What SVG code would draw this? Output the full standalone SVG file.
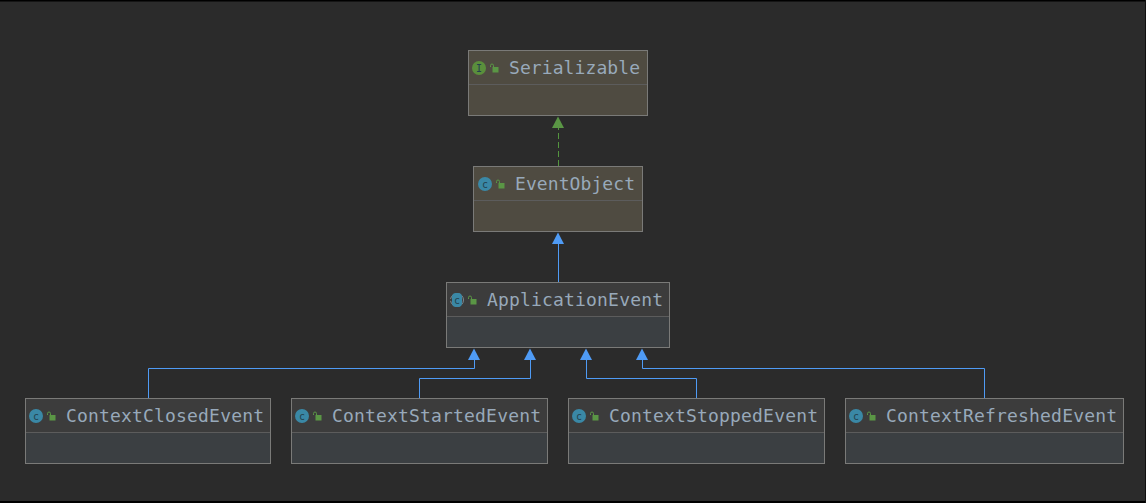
<svg xmlns="http://www.w3.org/2000/svg" width="1146" height="503" viewBox="0 0 1146 503">
<style>
.box{fill:none;stroke:#7a7a78;stroke-width:1}
.div{stroke:#5c5c5c;stroke-width:1}
.y .hb{fill:#4f4b41}
.y .bb{fill:#4f4b41}
.g .hb{fill:#3c3c3c}
.g .bb{fill:#3b3f42}
text{font-family:"DejaVu Sans Mono","Liberation Mono",monospace;font-size:18px;fill:#98a9ba}
.c{fill:#3a88a6}
.i{fill:#5a8f3c}
.ic{font-family:"DejaVu Sans Mono",monospace;font-size:10px;fill:#23424f;text-anchor:middle}
.conn{fill:none;stroke:#4f9bf5;stroke-width:1}
.dash{fill:none;stroke:#54953f;stroke-width:1;stroke-dasharray:6 3}
.ah{fill:#4f9bf5}
.ahg{fill:#5a9645}
.lk{fill:#5a9645}
.ls{fill:none;stroke:#5a9645;stroke-width:1}
</style>
<defs>
<g id="lock"><rect class="lk" x="2.500" y="3" width="6" height="5.500"/><path class="ls" d="M0.500 3V1.500a1.500 1.500 0 0 1 3 0V3.500"/></g>
</defs>
<rect width="1146" height="503" fill="#2b2b2b"/>
<rect width="1146" height="1.500" fill="#000"/>
<rect y="501" width="1146" height="2" fill="#000"/>
<rect x="1145" width="1" height="503" fill="#111"/>
<g id="connectors">
<path class="dash" d="M558.500 166V128"/>
<polygon class="ahg" points="558,116.500 552,128 564,128"/>
<path class="conn" d="M558.500 282V244"/>
<polygon class="ah" points="558,232.500 552,244 564,244"/>
<path class="conn" d="M148.500 398V368.500H474.500V360"/>
<polygon class="ah" points="474,348.500 468,360 480,360"/>
<path class="conn" d="M419.500 398V378.500H530.500V360"/>
<polygon class="ah" points="530,348.500 524,360 536,360"/>
<path class="conn" d="M696.500 398V378.500H586.500V360"/>
<polygon class="ah" points="586,348.500 580,360 592,360"/>
<path class="conn" d="M984.500 398V368.500H642.500V360"/>
<polygon class="ah" points="642,348.500 636,360 648,360"/>
</g>
<g id="Serializable" class="y">
<rect class="hb" x="468.500" y="50.500" width="179" height="34"/><rect class="bb" x="468.500" y="84.500" width="179" height="31"/>
<path class="div" d="M469 84.500H647"/><rect class="box" x="468.500" y="50.500" width="179" height="65"/>
<circle class="i" cx="479" cy="68" r="7"/><text class="ic" x="479" y="71.500">I</text>
<use href="#lock" x="490" y="64"/>
<text x="509" y="74" textLength="131" lengthAdjust="spacing">Serializable</text>
</g>
<g id="EventObject" class="y">
<rect class="hb" x="473.500" y="166.500" width="169" height="34"/><rect class="bb" x="473.500" y="200.500" width="169" height="31"/>
<path class="div" d="M474 200.500H642"/><rect class="box" x="473.500" y="166.500" width="169" height="65"/>
<circle class="c" cx="485" cy="184" r="7"/><text class="ic" x="485" y="187.500">c</text>
<use href="#lock" x="496" y="180"/>
<text x="515" y="190" textLength="120" lengthAdjust="spacing">EventObject</text>
</g>
<g id="ApplicationEvent" class="g">
<rect class="hb" x="446.500" y="282.500" width="223" height="34"/><rect class="bb" x="446.500" y="316.500" width="223" height="31"/>
<path class="div" d="M447 316.500H669"/><rect class="box" x="446.500" y="282.500" width="223" height="65"/>
<circle cx="457" cy="300" r="6.500" fill="none" stroke="#7d8a90" stroke-width="1" stroke-dasharray="5 2"/>
<rect class="c" x="452" y="293" width="10" height="14" rx="4"/><text class="ic" x="457" y="303.500">c</text>
<use href="#lock" x="468" y="296"/>
<text x="487" y="306" textLength="176" lengthAdjust="spacing">ApplicationEvent</text>
</g>
<g id="ContextClosedEvent" class="g">
<rect class="hb" x="25.500" y="398.500" width="245" height="34"/><rect class="bb" x="25.500" y="432.500" width="245" height="31"/>
<path class="div" d="M26 432.500H270"/><rect class="box" x="25.500" y="398.500" width="245" height="65"/>
<circle class="c" cx="36" cy="416" r="7"/><text class="ic" x="36" y="419.500">c</text>
<use href="#lock" x="47" y="412"/>
<text x="66" y="422" textLength="198" lengthAdjust="spacing">ContextClosedEvent</text>
</g>
<g id="ContextStartedEvent" class="g">
<rect class="hb" x="291.500" y="398.500" width="256" height="34"/><rect class="bb" x="291.500" y="432.500" width="256" height="31"/>
<path class="div" d="M292 432.500H547"/><rect class="box" x="291.500" y="398.500" width="256" height="65"/>
<circle class="c" cx="302" cy="416" r="7"/><text class="ic" x="302" y="419.500">c</text>
<use href="#lock" x="313" y="412"/>
<text x="332" y="422" textLength="209" lengthAdjust="spacing">ContextStartedEvent</text>
</g>
<g id="ContextStoppedEvent" class="g">
<rect class="hb" x="568.500" y="398.500" width="256" height="34"/><rect class="bb" x="568.500" y="432.500" width="256" height="31"/>
<path class="div" d="M569 432.500H824"/><rect class="box" x="568.500" y="398.500" width="256" height="65"/>
<circle class="c" cx="579" cy="416" r="7"/><text class="ic" x="579" y="419.500">c</text>
<use href="#lock" x="590" y="412"/>
<text x="609" y="422" textLength="209" lengthAdjust="spacing">ContextStoppedEvent</text>
</g>
<g id="ContextRefreshedEvent" class="g">
<rect class="hb" x="845.500" y="398.500" width="278" height="34"/><rect class="bb" x="845.500" y="432.500" width="278" height="31"/>
<path class="div" d="M846 432.500H1123"/><rect class="box" x="845.500" y="398.500" width="278" height="65"/>
<circle class="c" cx="856" cy="416" r="7"/><text class="ic" x="856" y="419.500">c</text>
<use href="#lock" x="867" y="412"/>
<text x="886" y="422" textLength="231" lengthAdjust="spacing">ContextRefreshedEvent</text>
</g>
</svg>
